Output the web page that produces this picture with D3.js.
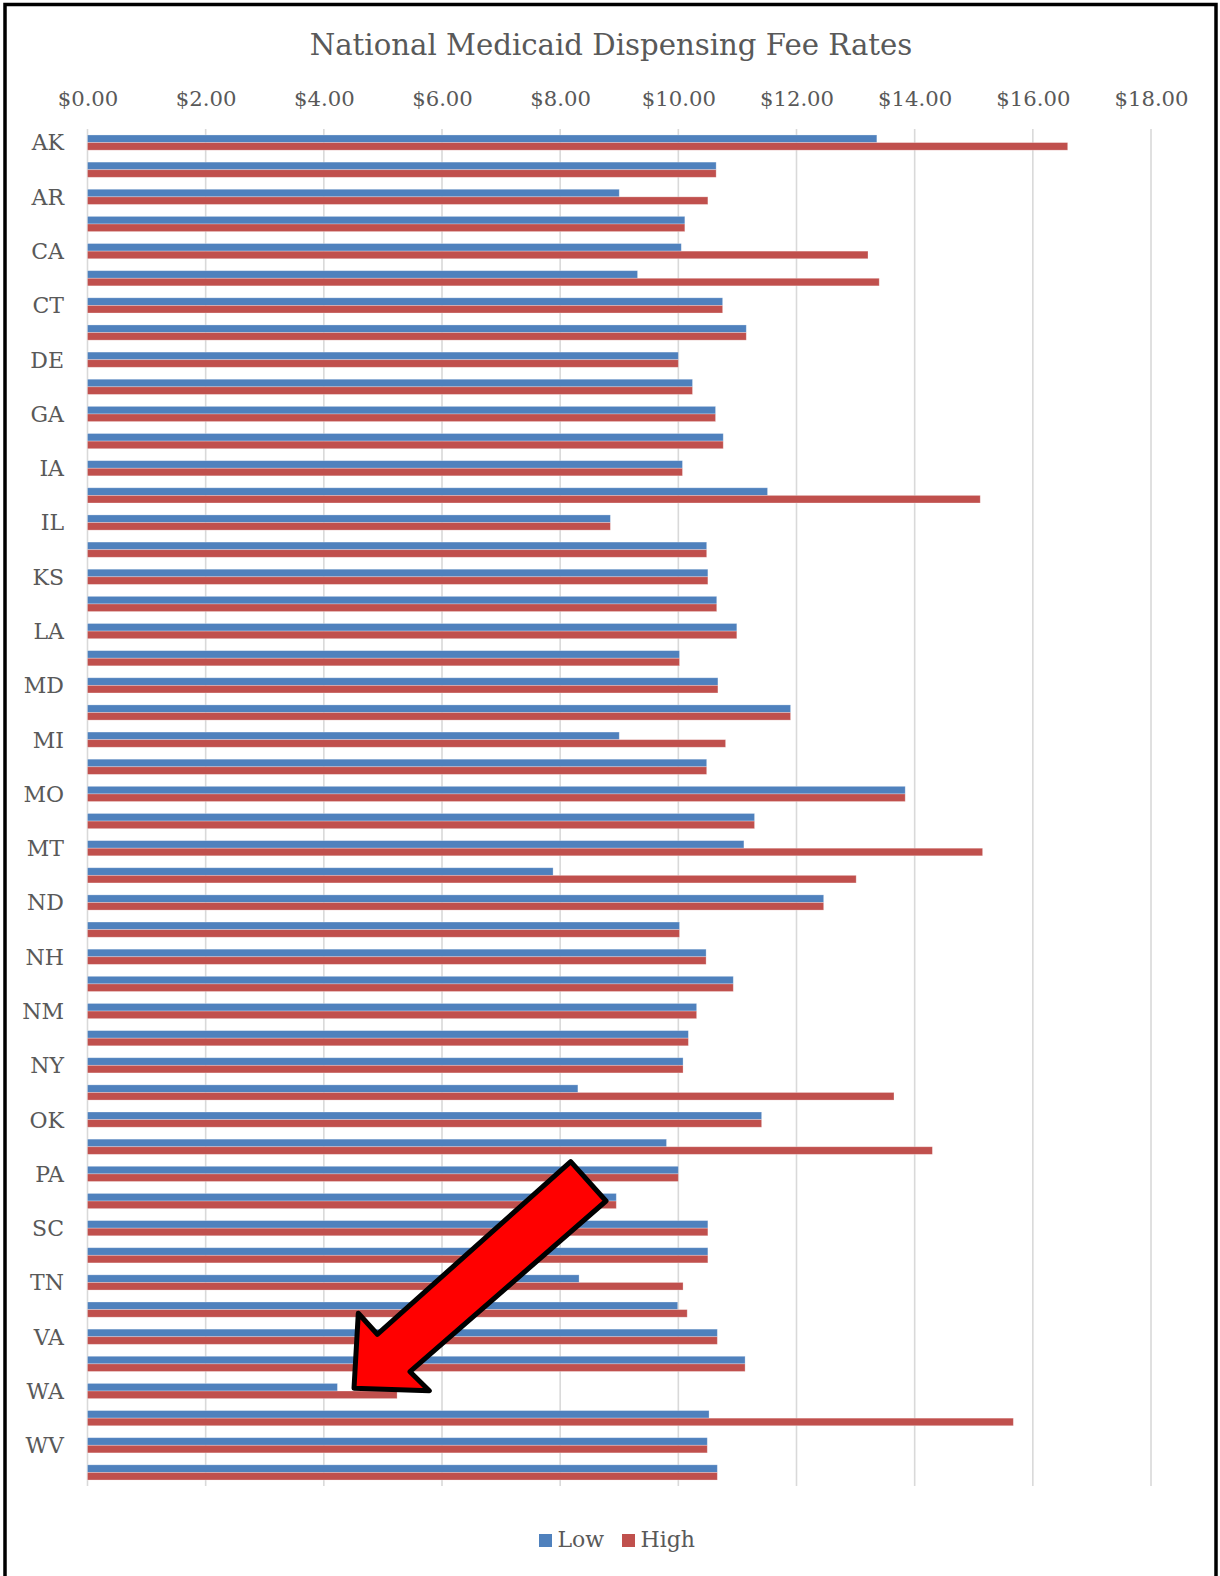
<!DOCTYPE html>
<html>
<head>
<meta charset="utf-8">
<script src="https://cdn.jsdelivr.net/npm/d3@7"></script>
<style>
  html, body { margin: 0; padding: 0; background: #fff; }
  svg { display: block; }
  text { font-family: "DejaVu Serif", "Liberation Serif", serif; fill: #595959; }
</style>
</head>
<body>
<svg id="chart" width="1220" height="1576"></svg>
<script>
// ---- data ----
const states = ["AK","AL","AR","AZ","CA","CO","CT","DC","DE","FL",
                "GA","HI","IA","ID","IL","IN","KS","KY","LA","MA",
                "MD","ME","MI","MN","MO","MS","MT","NC","ND","NE",
                "NH","NJ","NM","NV","NY","OH","OK","OR","PA","RI",
                "SC","SD","TN","TX","VA","VT","WA","WI","WV","WY"];
const lowRates  = [13.36,10.64, 9.00,10.11,10.05, 9.31,10.75,11.15,10.00,10.24,
                   10.63,10.76,10.07,11.51, 8.85,10.48,10.50,10.65,10.99,10.02,
                   10.67,11.90, 9.00,10.48,13.84,11.29,11.11, 7.88,12.46,10.02,
                   10.47,10.93,10.31,10.17,10.08, 8.30,11.41, 9.80,10.00, 8.95,
                   10.50,10.50, 8.32, 9.99,10.66,11.13, 4.23,10.52,10.49,10.66];
const highRates = [16.59,10.64,10.50,10.11,13.21,13.40,10.75,11.15,10.00,10.24,
                   10.63,10.76,10.07,15.11, 8.85,10.48,10.50,10.65,10.99,10.02,
                   10.67,11.90,10.80,10.48,13.84,11.29,15.15,13.01,12.46,10.02,
                   10.47,10.93,10.31,10.17,10.08,13.65,11.41,14.30,10.00, 8.95,
                   10.50,10.50,10.08,10.15,10.66,11.13, 5.24,15.67,10.49,10.66];
const seriesNames = ["Low", "High"];
const seriesColors = ["#4F81BD", "#C0504D"];
const xTicks = [0, 2, 4, 6, 8, 10, 12, 14, 16, 18];
const titleText = "National Medicaid Dispensing Fee Rates";
// annotation arrow outline (overlay drawing, not data)
const arrowPoints = [[570.7,1161.7],[606,1201],[410,1371.7],[429.3,1390.7],[354,1388.3],[358.3,1313.3],[377.3,1334.3]];

// ---- layout ----
const svg = d3.select("#chart");
const plot = { left: 87.5, right: 1151, top: 129, bottom: 1486 };

// frame
svg.append("rect")
  .attr("x", 5).attr("y", 4.5).attr("width", 1211).attr("height", 1590)
  .attr("fill", "none").attr("stroke", "#000").attr("stroke-width", 3.5);

// title
svg.append("text")
  .attr("x", 611).attr("y", 55)
  .attr("text-anchor", "middle")
  .style("font-size", "29.2px")
  .text(titleText);

const x = d3.scaleLinear().domain([0, 18]).range([plot.left, plot.right]);
const y0 = d3.scaleBand().domain(states).range([plot.top, plot.bottom])
  .paddingInner(0.44).paddingOuter(0.22);
const y1 = d3.scaleBand().domain(seriesNames).range([0, y0.bandwidth()]);

// gridlines
svg.append("g").selectAll("line").data(xTicks).join("line")
  .attr("x1", d => x(d)).attr("x2", d => x(d))
  .attr("y1", plot.top).attr("y2", plot.bottom)
  .attr("stroke", "#d9d9d9").attr("stroke-width", 1.6);

// top axis labels
const axisTop = d3.axisTop(x).tickValues(xTicks).tickSize(0).tickPadding(0)
  .tickFormat(d3.format("$.2f"));
const gx = svg.append("g").attr("transform", `translate(0,105.5)`).call(axisTop);
gx.select(".domain").remove();
gx.selectAll("text").attr("fill", "#595959")
  .style("font-family", '"DejaVu Serif", serif').style("font-size", "21.2px");

// category labels (every other)
svg.append("g").selectAll("text").data(states.filter((d, i) => i % 2 === 0)).join("text")
  .attr("x", 64)
  .attr("y", d => y0(d) + y0.bandwidth() / 2)
  .attr("dy", "0.36em")
  .attr("text-anchor", "end")
  .style("font-size", "22px")
  .text(d => d);

// bars
const rows = states.map((s, i) => ({ state: s, values: [lowRates[i], highRates[i]] }));
const gRows = svg.append("g").selectAll("g").data(rows).join("g")
  .attr("transform", d => `translate(0,${y0(d.state)})`);
gRows.selectAll("rect").data(d => d.values.map((v, j) => ({ key: seriesNames[j], value: v, color: seriesColors[j] })))
  .join("rect")
  .attr("x", x(0))
  .attr("y", d => y1(d.key))
  .attr("width", d => x(d.value) - x(0))
  .attr("height", y1.bandwidth())
  .attr("fill", d => d.color)
  .attr("stroke", "rgba(255,255,255,0.35)")
  .attr("stroke-width", 0.8);

// legend
const legendX = [539, 622];
const lg = svg.append("g").selectAll("g").data(seriesNames).join("g")
  .attr("transform", (d, i) => `translate(${legendX[i]},1534)`);
lg.append("rect").attr("width", 13).attr("height", 13)
  .attr("fill", (d, i) => seriesColors[i]);
lg.append("text").attr("x", 18.5).attr("y", 13)
  .style("font-size", "22px").text(d => d);

// annotation arrow
svg.append("path")
  .attr("d", d3.line()(arrowPoints) + "Z")
  .attr("fill", "#FF0000").attr("stroke", "#000")
  .attr("stroke-width", 5).attr("stroke-linejoin", "round");
</script>
</body>
</html>
